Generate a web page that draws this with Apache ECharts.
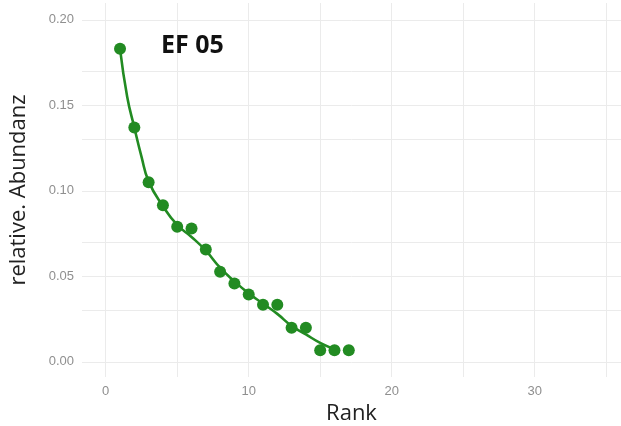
<!DOCTYPE html>
<html>
<head>
<meta charset="utf-8">
<script src="https://cdn.jsdelivr.net/npm/echarts@6/dist/echarts.min.js"></script>
<style>html,body{margin:0;padding:0;background:#fff;}#c{width:621px;height:426px;}</style>
</head>
<body>
<div id="c"></div>
<script>
// Data
const rank = [1,2,3,4,5,6,7,8,9,10,11,12,13,14,15,16,17];
const abundance = [0.183,0.137,0.105,0.0915,0.079,0.078,0.0657,0.0526,0.0458,0.0394,0.0333,0.0333,0.0199,0.0199,0.0067,0.0067,0.0067];
// fitted curve
const curveX = [1,1.5,2,2.5,3,4,5,6,7,8,9,10,11,12,13,14,15,15.8];
const curveY = [0.183,0.155,0.137,0.120,0.1055,0.091,0.080,0.073,0.065,0.055,0.047,0.040,0.034,0.028,0.021,0.016,0.011,0.008];
const xTicks = [0,10,20,30];
const yTicks = [0,0.05,0.10,0.15,0.20];
const xGrid = [0,5,10,15,20,25,30,35];
const yGrid = [0,0.025,0.05,0.075,0.10,0.125,0.15,0.175,0.20];

const chart = echarts.init(document.getElementById('c'));
const gridStyle = {color:'#ebebeb', width:1, type:'solid'};
chart.setOption({
  animation:false,
  title:{text:'EF 05', left:156, top:28, textStyle:{fontFamily:'Open Sans', fontWeight:'bold', fontSize:25, color:'#111'}},
  grid:{left:82, right:0, top:3, bottom:49, containLabel:false, outerBoundsMode:'none'},
  xAxis:{type:'value', min:-1.66, max:36.04,
    axisLine:{show:false}, axisTick:{show:false}, splitLine:{show:false},
    axisLabel:{customValues:xTicks, color:'#8f8f8f', fontSize:13, fontFamily:'Liberation Sans', margin:8},
    name:'Rank', nameLocation:'middle', nameGap:24,
    nameTextStyle:{fontFamily:'Open Sans', fontSize:22, color:'#222'}},
  yAxis:{type:'value', min:-0.0089, max:0.2098,
    axisLine:{show:false}, axisTick:{show:false}, splitLine:{show:false},
    axisLabel:{customValues:yTicks, color:'#8f8f8f', fontSize:13, fontFamily:'Liberation Sans', margin:8,
      formatter:v=>v.toFixed(2)},
    name:'relative. Abundanz', nameLocation:'middle', nameGap:52,
    nameTextStyle:{fontFamily:'Open Sans', fontSize:22, color:'#222'}},
  series:[
    {type:'line', data:[], silent:true, z:0,
      markLine:{silent:true, z:0, symbol:'none', label:{show:false}, lineStyle:gridStyle, animation:false,
        data:[...xGrid.map(v=>({xAxis:v})), ...yGrid.map(v=>({yAxis:v}))]}},
    {type:'line', data:curveX.map((x,i)=>[x,curveY[i]]), smooth:true, symbol:'none', silent:true,
      lineStyle:{color:'#228B22', width:2.6, join:'round', cap:'round'}, z:10},
    {type:'scatter', data:rank.map((x,i)=>[x,abundance[i]]), symbolSize:12,
      itemStyle:{color:'#228B22', opacity:1}, z:11}
  ]
});
</script>
</body>
</html>
